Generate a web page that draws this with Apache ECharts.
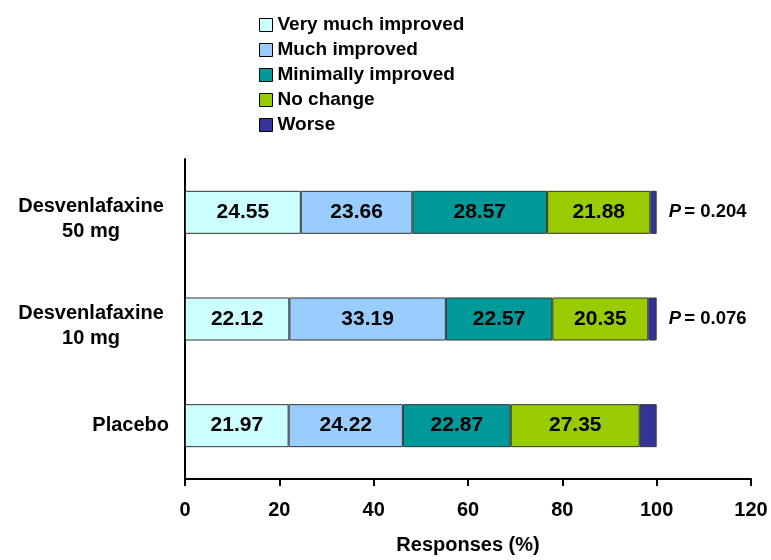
<!DOCTYPE html>
<html><head><meta charset="utf-8">
<script src="https://cdn.jsdelivr.net/npm/echarts@6/dist/echarts.min.js"></script>
<style>html,body{margin:0;padding:0;background:#fff}#c{width:771px;height:560px}</style>
</head><body><div id="c"></div>
<script>
var categories = ['Placebo', 'Desvenlafaxine\n10 mg', 'Desvenlafaxine\n50 mg'];
var seriesNames = ['Very much improved', 'Much improved', 'Minimally improved', 'No change', 'Worse'];
var veryMuch = [21.97, 22.12, 24.55];
var much = [24.22, 33.19, 23.66];
var minimally = [22.87, 22.57, 28.57];
var noChange = [27.35, 20.35, 21.88];
var worse = [3.59, 1.77, 1.34];
var pValues = ['', '0.076', '0.204'];
var xTicks = [0, 20, 40, 60, 80, 100, 120];
var colors = ['#CCFFFF', '#99CCFF', '#009999', '#99CC00', '#333399'];
var values = [veryMuch, much, minimally, noChange, worse];

var font = 'Liberation Sans, Arial, sans-serif';
var chart = echarts.init(document.getElementById('c'));
var series = values.map(function (arr, i) {
  var s = {
    name: seriesNames[i], type: 'bar', stack: 'total', barWidth: 43,
    data: arr,
    itemStyle: { color: colors[i], borderColor: '#333', borderWidth: 1 },
    label: {
      show: i < 4, position: 'inside', color: '#000', fontSize: 21, fontWeight: 'bold', fontFamily: font,
      formatter: function (p) { return p.value.toFixed(2); }
    }
  };
  if (i === 4) {
    s.label = {
      show: true, position: 'right', distance: 12, fontFamily: font,
      formatter: function (p) { var v = pValues[p.dataIndex]; return v ? '{i|P} {n|= ' + v + '}' : ''; },
      rich: {
        i: { fontStyle: 'italic', fontWeight: 'bold', fontSize: 18.5, color: '#000', fontFamily: font },
        n: { fontWeight: 'bold', fontSize: 18.5, color: '#000', fontFamily: font }
      }
    };
  }
  return s;
});

chart.setOption({
  animation: false,
  color: colors,
  legend: {
    orient: 'vertical', left: 259, top: 15, padding: 0, itemGap: 5, itemWidth: 13, itemHeight: 13,
    icon: 'rect', data: seriesNames,
    itemStyle: { borderColor: '#000', borderWidth: 1 },
    textStyle: { fontSize: 19, lineHeight: 20, fontWeight: 'bold', color: '#000', fontFamily: font }
  },
  grid: { left: 185, right: 20, top: 159, bottom: 77, containLabel: false },
  xAxis: {
    type: 'value', min: 0, max: 120, interval: 20,
    name: 'Responses (%)', nameLocation: 'middle', nameGap: 56,
    nameTextStyle: { fontSize: 20, fontWeight: 'bold', color: '#000', fontFamily: font },
    axisLine: { show: true, lineStyle: { color: '#000', width: 2 } },
    axisTick: { show: true, length: 7, lineStyle: { color: '#000', width: 2 } },
    axisLabel: { fontSize: 20, fontWeight: 'bold', color: '#000', fontFamily: font, margin: 21,
      formatter: function (v) { return xTicks.indexOf(v) >= 0 ? String(v) : ''; } },
    splitLine: { show: false }
  },
  yAxis: {
    type: 'category', data: categories,
    axisLine: { show: true, lineStyle: { color: '#000', width: 2 } },
    axisTick: { show: false },
    axisLabel: {
      fontFamily: font, margin: 16, align: 'right',
      formatter: function (v) {
        var parts = v.split('\n');
        if (parts.length === 1) return '{b|' + v + '}';
        return '{s| }\n{a|' + parts[0] + '}\n{a|' + parts[1] + '}';
      },
      rich: {
        s: { fontSize: 1, lineHeight: 13, height: 13 },
        a: { width: 156, align: 'center', fontSize: 20, lineHeight: 25, fontWeight: 'bold', color: '#000', fontFamily: font },
        b: { fontSize: 20, lineHeight: 25, fontWeight: 'bold', color: '#000', fontFamily: font }
      }
    },
    splitLine: { show: false }
  },
  series: series
});
</script></body></html>
